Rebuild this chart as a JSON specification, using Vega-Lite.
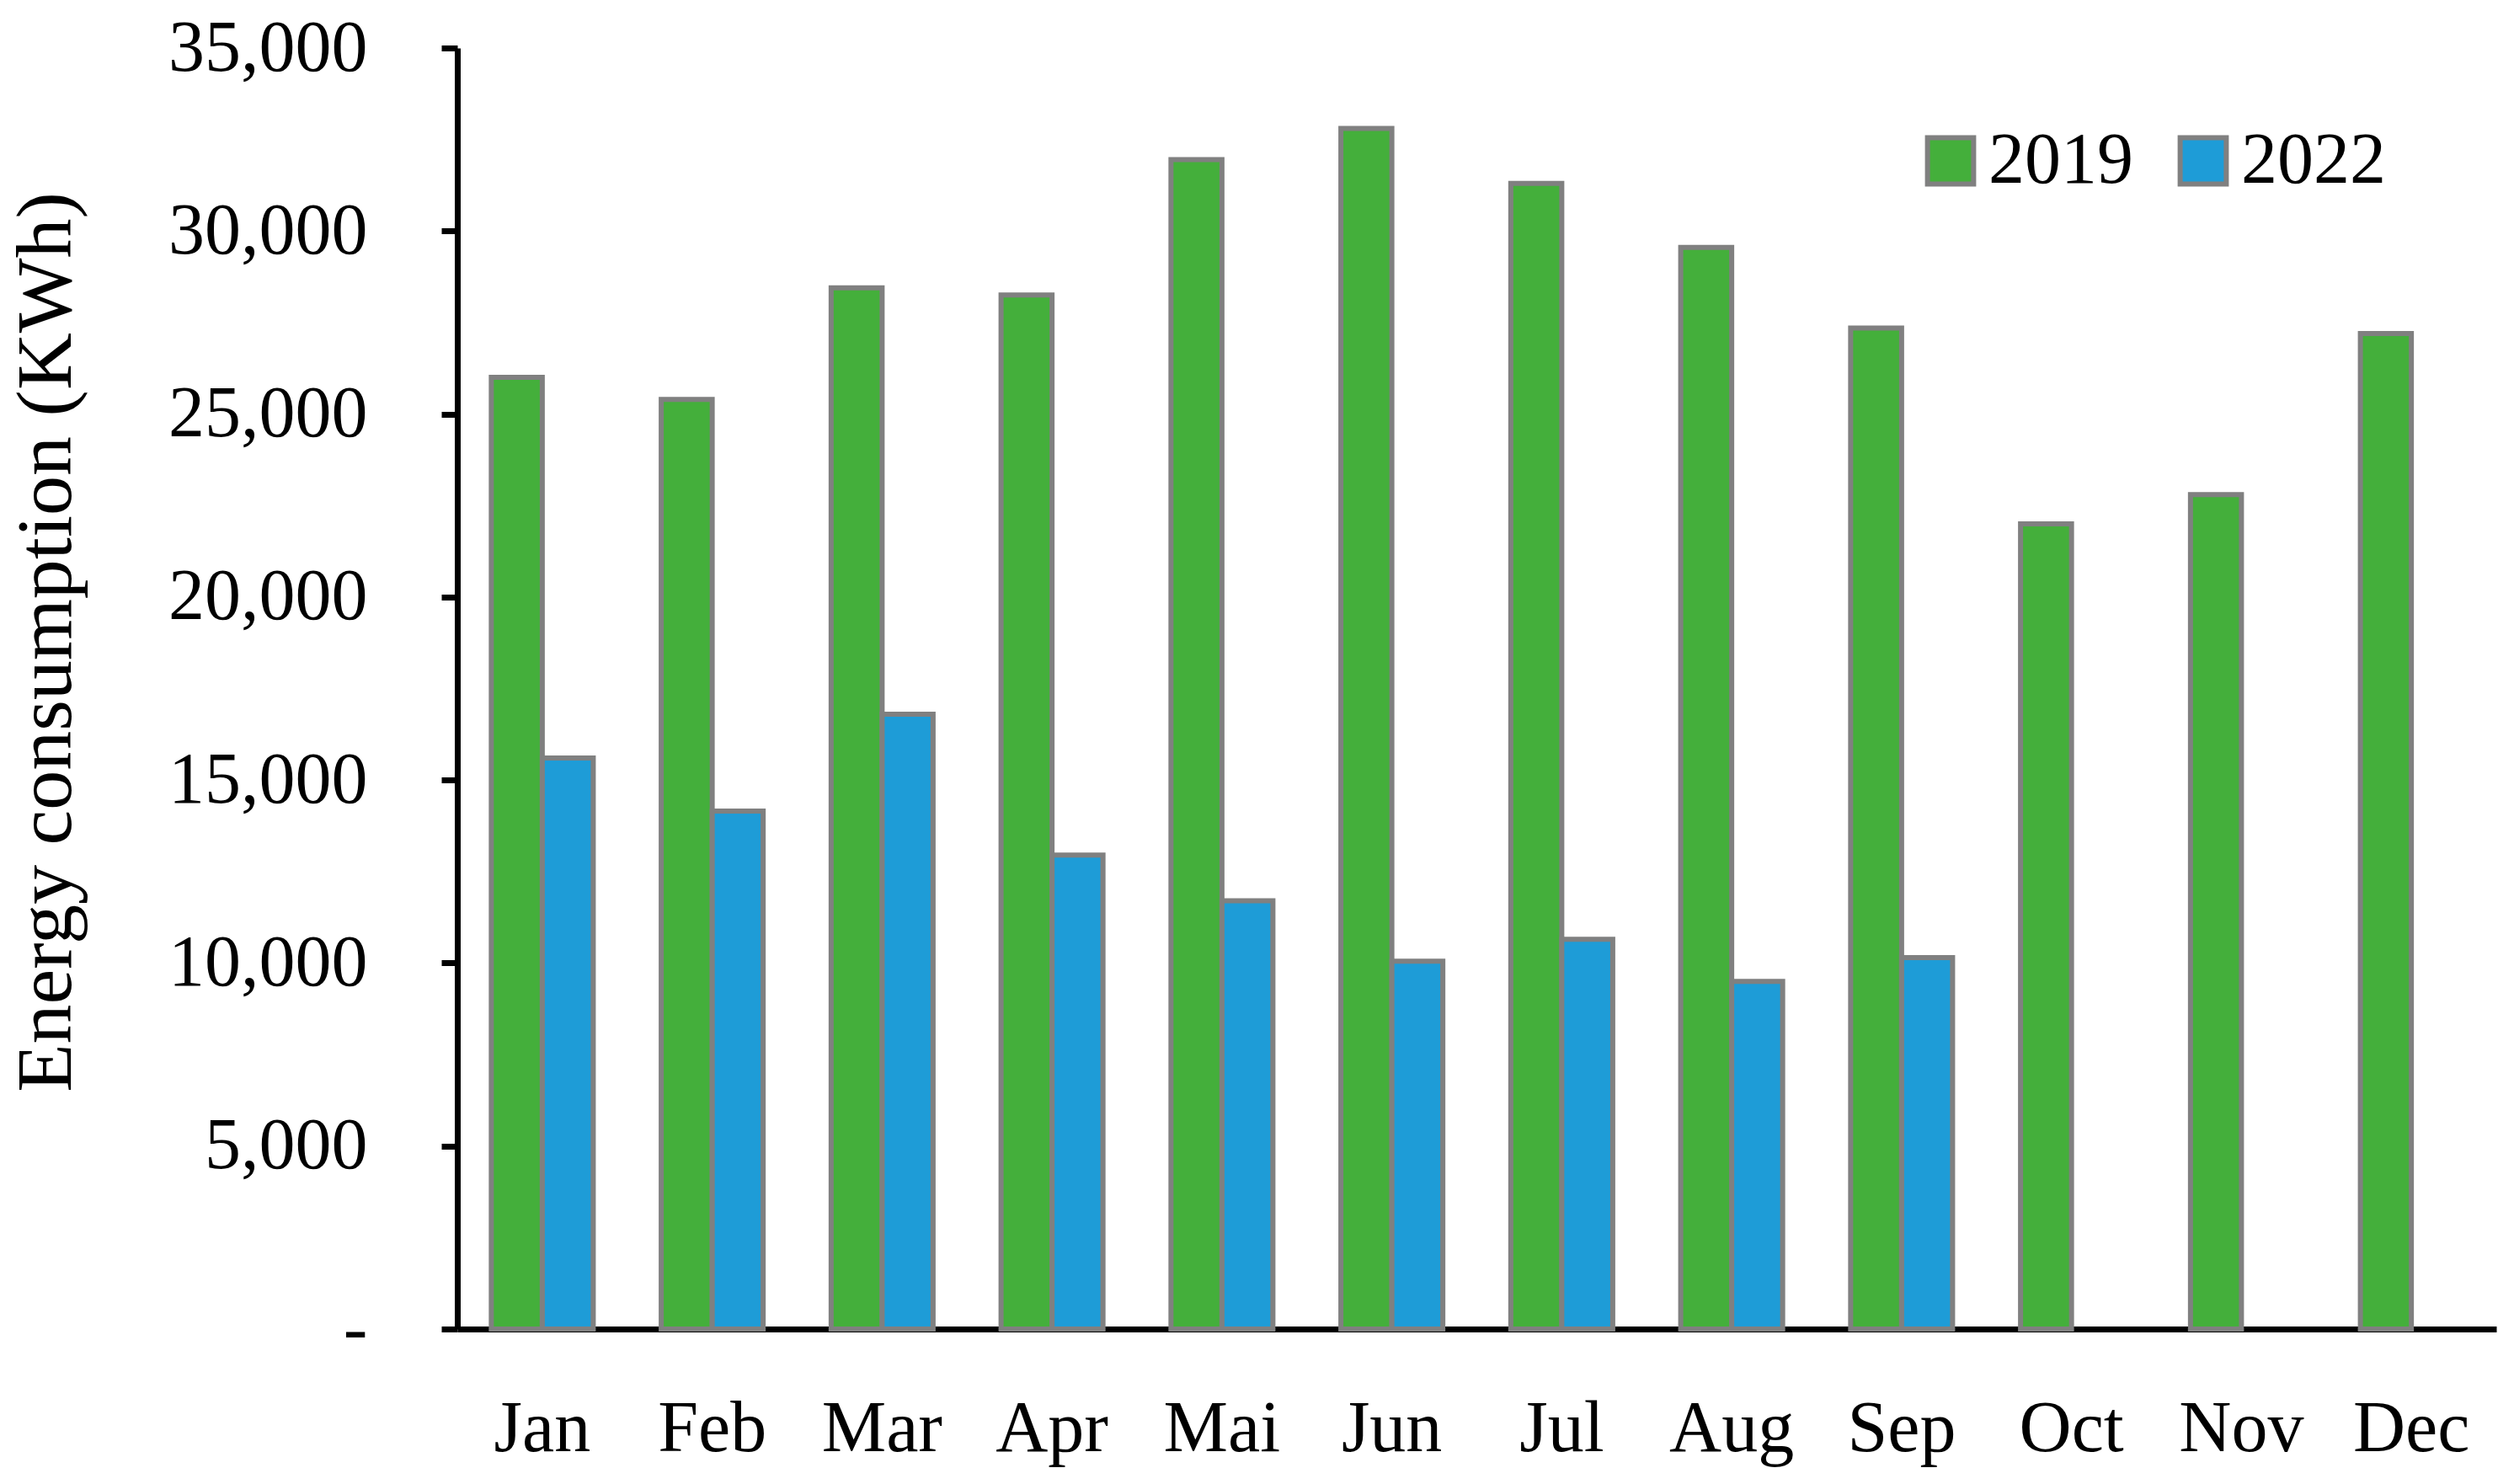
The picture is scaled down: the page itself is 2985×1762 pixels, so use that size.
{
  "$schema": "https://vega.github.io/schema/vega-lite/v6.json",
  "autosize": "none",
  "padding": {"left": 543, "top": 57, "right": 21, "bottom": 184},
  "width": 2421,
  "height": 1521,
  "background": "white",
  "config": {
    "view": {"stroke": null},
    "font": "Liberation Serif"
  },
  "data": {
    "values": [
      {"month": "Jan", "year": "2019", "kwh": 26000},
      {"month": "Jan", "year": "2022", "kwh": 15600},
      {"month": "Feb", "year": "2019", "kwh": 25400},
      {"month": "Feb", "year": "2022", "kwh": 14150},
      {"month": "Mar", "year": "2019", "kwh": 28450},
      {"month": "Mar", "year": "2022", "kwh": 16800},
      {"month": "Apr", "year": "2019", "kwh": 28250},
      {"month": "Apr", "year": "2022", "kwh": 12950},
      {"month": "Mai", "year": "2019", "kwh": 31950},
      {"month": "Mai", "year": "2022", "kwh": 11700},
      {"month": "Jun", "year": "2019", "kwh": 32800},
      {"month": "Jun", "year": "2022", "kwh": 10050},
      {"month": "Jul", "year": "2019", "kwh": 31300},
      {"month": "Jul", "year": "2022", "kwh": 10650},
      {"month": "Aug", "year": "2019", "kwh": 29550},
      {"month": "Aug", "year": "2022", "kwh": 9500},
      {"month": "Sep", "year": "2019", "kwh": 27350},
      {"month": "Sep", "year": "2022", "kwh": 10150},
      {"month": "Oct", "year": "2019", "kwh": 22000},
      {"month": "Nov", "year": "2019", "kwh": 22800},
      {"month": "Dec", "year": "2019", "kwh": 27200}
    ]
  },
  "mark": {"type": "bar", "stroke": "#808080", "strokeWidth": 6},
  "encoding": {
    "x": {
      "field": "month",
      "type": "nominal",
      "sort": ["Jan", "Feb", "Mar", "Apr", "Mai", "Jun", "Jul", "Aug", "Sep", "Oct", "Nov", "Dec"],
      "scale": {"paddingInner": 0.4, "paddingOuter": 0.2},
      "axis": {
        "title": null,
        "labelAngle": 0,
        "labelFont": "Liberation Serif",
        "labelFontSize": 86,
        "labelColor": "black",
        "labelPadding": 76,
        "labelLimit": 0,
        "ticks": false,
        "domainColor": "black",
        "domainWidth": 7,
        "grid": false
      }
    },
    "xOffset": {"field": "year", "type": "nominal", "scale": {"paddingInner": 0, "paddingOuter": 0}},
    "y": {
      "field": "kwh",
      "type": "quantitative",
      "scale": {"domain": [0, 35000], "nice": false},
      "axis": {
        "title": "Energy consumption (KWh)",
        "titleFont": "Liberation Serif",
        "titleFontSize": 94,
        "titleFontWeight": "normal",
        "titleColor": "black",
        "titlePadding": 240,
        "titleY": 705,
        "values": [0, 5000, 10000, 15000, 20000, 25000, 30000, 35000],
        "labelExpr": "datum.value == 0 ? '-' : format(datum.value, ',')",
        "labelFont": "Liberation Serif",
        "labelFontSize": 86,
        "labelColor": "black",
        "labelPadding": 88,
        "labelLimit": 0,
        "tickSize": 19,
        "tickWidth": 7,
        "tickColor": "black",
        "domainColor": "black",
        "domainWidth": 7,
        "grid": false
      }
    },
    "color": {
      "field": "year",
      "type": "nominal",
      "scale": {"domain": ["2019", "2022"], "range": ["#44AF3B", "#1E9CD7"]},
      "legend": {
        "title": null,
        "orient": "none",
        "legendX": 1730,
        "legendY": 91,
        "direction": "horizontal",
        "symbolType": "square",
        "symbolSize": 3000,
        "symbolStrokeColor": "#808080",
        "symbolStrokeWidth": 6,
        "labelFont": "Liberation Serif",
        "labelFontSize": 86,
        "labelColor": "black",
        "labelOffset": 2,
        "labelLimit": 0,
        "columnPadding": 40
      }
    }
  }
}
